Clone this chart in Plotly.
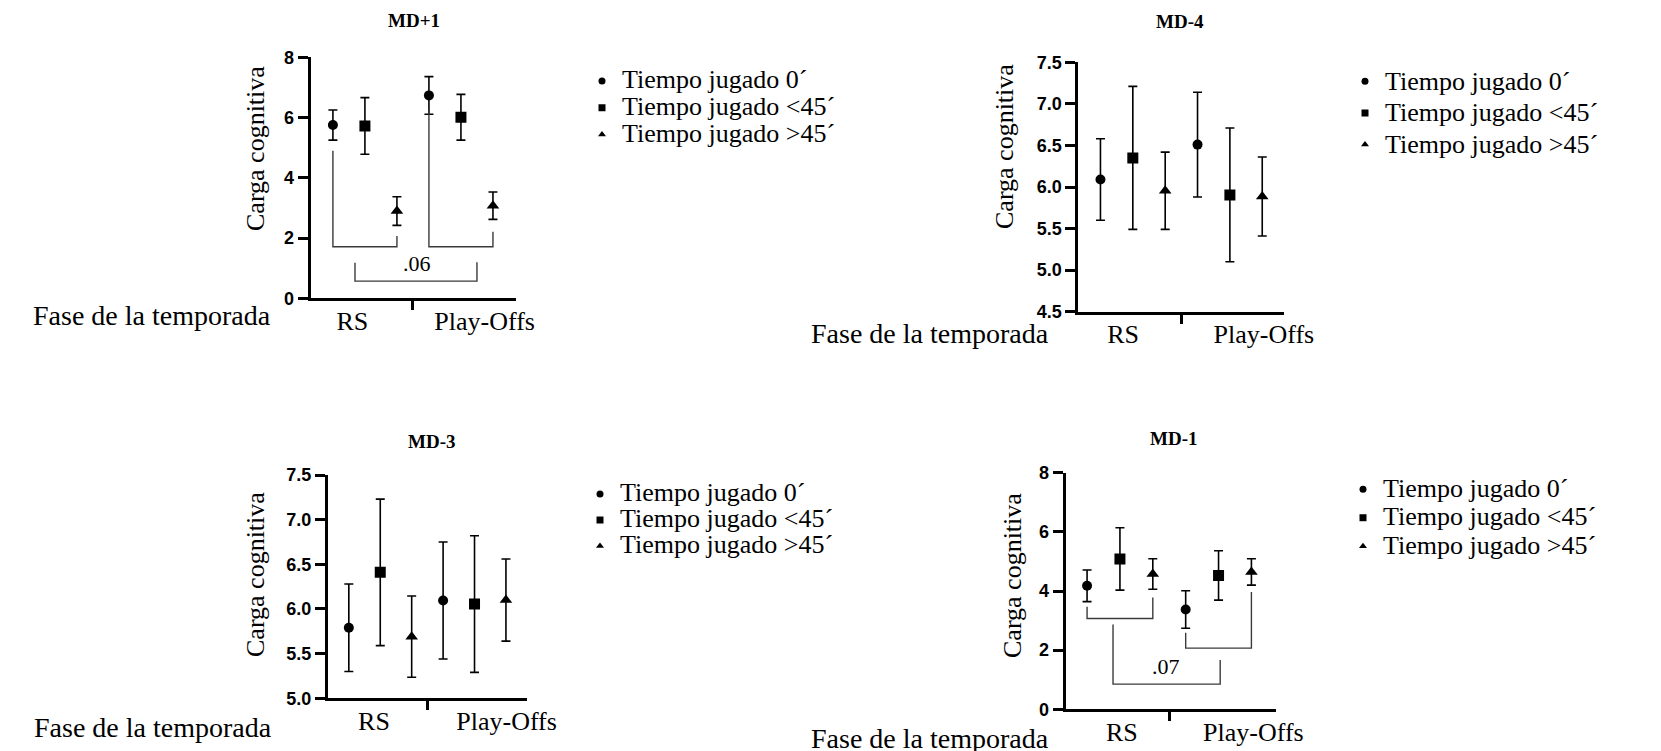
import plotly.graph_objects as go

W, H = 1661, 751
OFF = 8  # page body margin offset

# ---------------- data ----------------
groups = ["RS", "Play-Offs"]
series_names = ["Tiempo jugado 0´", "Tiempo jugado <45´", "Tiempo jugado >45´"]
panel_titles = ["MD+1", "MD-4", "MD-3", "MD-1"]
y_title = "Carga cognitiva"
x_title = "Fase de la temporada"

# mean / error per series (rows) and season phase (cols: RS, Play-Offs)
mdp1_mean = [[5.75, 6.735], [5.72, 6.01], [2.895, 3.075]]
mdp1_err = [[0.50, 0.625], [0.94, 0.76], [0.475, 0.455]]
md4_mean = [[6.09, 6.51], [6.35, 5.905], [5.955, 5.885]]
md4_err = [[0.49, 0.63], [0.86, 0.805], [0.465, 0.475]]
md3_mean = [[5.79, 6.095], [6.41, 6.055], [5.69, 6.10]]
md3_err = [[0.49, 0.655], [0.82, 0.765], [0.455, 0.46]]
md1_mean = [[4.175, 3.375], [5.085, 4.525], [4.575, 4.645]]
md1_err = [[0.535, 0.635], [1.055, 0.835], [0.515, 0.445]]
sig_labels = [".06", ".07"]

symbols = ["circle", "square", "triangle-up"]
sizes = [10, 11, 11]

def fx(p):
    return (p - OFF) / W

def fy(p):
    return 1 - (p - OFF) / H

panels = [
    dict(mean=mdp1_mean, err=mdp1_err, px=(310.5, 516), py=(57.3, 298.3), xr=(0.30, 6.72),
         yr=(0, 8), dtick=2, fmt="d", lab=(1.61, 5.74),
         title=(414, 21), ytit=(255, 149), xtit=(151.5, 315),
         leg=(582, 62.5, 18.3)),
    dict(mean=md4_mean, err=md4_err, px=(1078.3, 1283.6), py=(62.3, 311.7), xr=(0.315, 6.66),
         yr=(4.5, 7.5), dtick=0.5, fmt=".1f", lab=(1.70, 6.05),
         title=(1180, 22), ytit=(1005, 147), xtit=(930, 333),
         leg=(1345, 60.5, 22)),
    dict(mean=md3_mean, err=md3_err, px=(328, 527), py=(475, 698.3), xr=(0.337, 6.67),
         yr=(5, 7.5), dtick=0.5, fmt=".1f", lab=(1.80, 6.02),
         title=(431, 441), ytit=(255, 575), xtit=(152.5, 727),
         leg=(580, 476, 17.7)),
    dict(mean=md1_mean, err=md1_err, px=(1065.7, 1276.4), py=(472.7, 709.3), xr=(0.35, 6.76),
         yr=(0, 8), dtick=2, fmt="d", lab=(2.06, 6.06),
         title=(1173, 438), ytit=(1012, 576), xtit=(930, 738),
         leg=(1343, 470, 19.6)),
]

fig = go.Figure()
annotations = []
shapes = []
layout = dict(
    width=W, height=H, autosize=False,
    margin=dict(l=0, r=0, t=0, b=0, pad=0, autoexpand=False),
    paper_bgcolor="white", plot_bgcolor="white",
    showlegend=True,
)

serif = "Liberation Serif"
sans = "Liberation Sans"

for k, p in enumerate(panels):
    n = k + 1
    xa = "x" if n == 1 else f"x{n}"
    ya = "y" if n == 1 else f"y{n}"
    lg = "legend" if n == 1 else f"legend{n}"
    for i in range(3):
        fig.add_trace(go.Scatter(
            x=[1 + i, 4 + i], y=p["mean"][i], mode="markers",
            marker=dict(symbol=symbols[i], size=sizes[i], color="black"),
            error_y=dict(type="data", array=p["err"][i], visible=True,
                         color="black", thickness=1.6, width=4.5),
            showlegend=False, xaxis=xa, yaxis=ya, hoverinfo="skip",
        ))
    for i in range(3):
        fig.add_trace(go.Scatter(
            x=[None], y=[None], mode="markers",
            marker=dict(symbol=symbols[i], size=7, color="black"),
            name=f'<span style="font-size:26px">{series_names[i]}</span>',
            legend=lg, showlegend=True, xaxis=xa, yaxis=ya,
        ))
    layout[f"xaxis{'' if n == 1 else n}"] = dict(
        domain=[fx(p["px"][0]), fx(p["px"][1])], anchor=ya, range=list(p["xr"]),
        showline=True, linewidth=3, linecolor="black", showgrid=False, zeroline=False,
        tickmode="array", tickvals=list(p["lab"]), ticktext=groups, ticks="",
        tickfont=dict(family=serif, size=26, color="black"), ticklabelstandoff=-3,
        minor=dict(tickmode="array", tickvals=[3.5], ticks="outside", ticklen=9,
                   tickwidth=3, tickcolor="black"),
        automargin=False, fixedrange=True,
    )
    layout[f"yaxis{'' if n == 1 else n}"] = dict(
        domain=[fy(p["py"][1]), fy(p["py"][0])], anchor=xa, range=list(p["yr"]),
        dtick=p["dtick"], tick0=p["yr"][0], tickformat=p["fmt"],
        showline=True, linewidth=3, linecolor="black", showgrid=False, zeroline=False,
        ticks="outside", ticklen=10, tickwidth=2.5, tickcolor="black",
        tickfont=dict(family=sans, size=18, color="black", weight=700),
        automargin=False, fixedrange=True,
    )
    layout[lg] = dict(
        x=fx(p["leg"][0]), y=fy(p["leg"][1]), xanchor="left", yanchor="top",
        font=dict(family=serif, size=p["leg"][2], color="black"),
        bgcolor="rgba(0,0,0,0)", itemwidth=30, tracegroupgap=0,
    )
    annotations.append(dict(
        text=f"<b>{panel_titles[k]}</b>", x=fx(p["title"][0]), y=fy(p["title"][1]),
        xref="paper", yref="paper", showarrow=False, xanchor="center", yanchor="middle",
        font=dict(family=serif, size=19, color="black"),
    ))
    annotations.append(dict(
        text=y_title, x=fx(p["ytit"][0]), y=fy(p["ytit"][1]), textangle=-90,
        xref="paper", yref="paper", showarrow=False, xanchor="center", yanchor="middle",
        font=dict(family=serif, size=26, color="black"),
    ))
    annotations.append(dict(
        text=x_title, x=fx(p["xtit"][0]), y=fy(p["xtit"][1]),
        xref="paper", yref="paper", showarrow=False, xanchor="center", yanchor="middle",
        font=dict(family=serif, size=28, color="black"),
    ))

# significance brackets
br_line = dict(color="#3a3a3a", width=1.4)
for path, xr_, yr_ in [
    ("M 1,4.9 L 1,1.71 L 3,1.71 L 3,2.07", "x", "y"),
    ("M 4,6.25 L 4,1.71 L 6,1.71 L 6,2.21", "x", "y"),
    ("M 1.69,1.18 L 1.69,0.57 L 5.5,0.57 L 5.5,1.2", "x", "y"),
    ("M 1,3.47 L 1,3.07 L 3,3.07 L 3,3.78", "x4", "y4"),
    ("M 4,2.59 L 4,2.07 L 6,2.07 L 6,3.97", "x4", "y4"),
    ("M 1.79,2.87 L 1.79,0.85 L 5.05,0.85 L 5.05,1.67", "x4", "y4"),
]:
    shapes.append(dict(type="path", path=path, xref=xr_, yref=yr_, line=br_line))

annotations.append(dict(text=sig_labels[0], x=3.62, y=1.14, xref="x", yref="y",
                        showarrow=False, font=dict(family=serif, size=22, color="black")))
annotations.append(dict(text=sig_labels[1], x=3.40, y=1.44, xref="x4", yref="y4",
                        showarrow=False, font=dict(family=serif, size=22, color="black")))

layout["annotations"] = annotations
layout["shapes"] = shapes
fig.update_layout(**layout)

fig.write_html("out.html")
